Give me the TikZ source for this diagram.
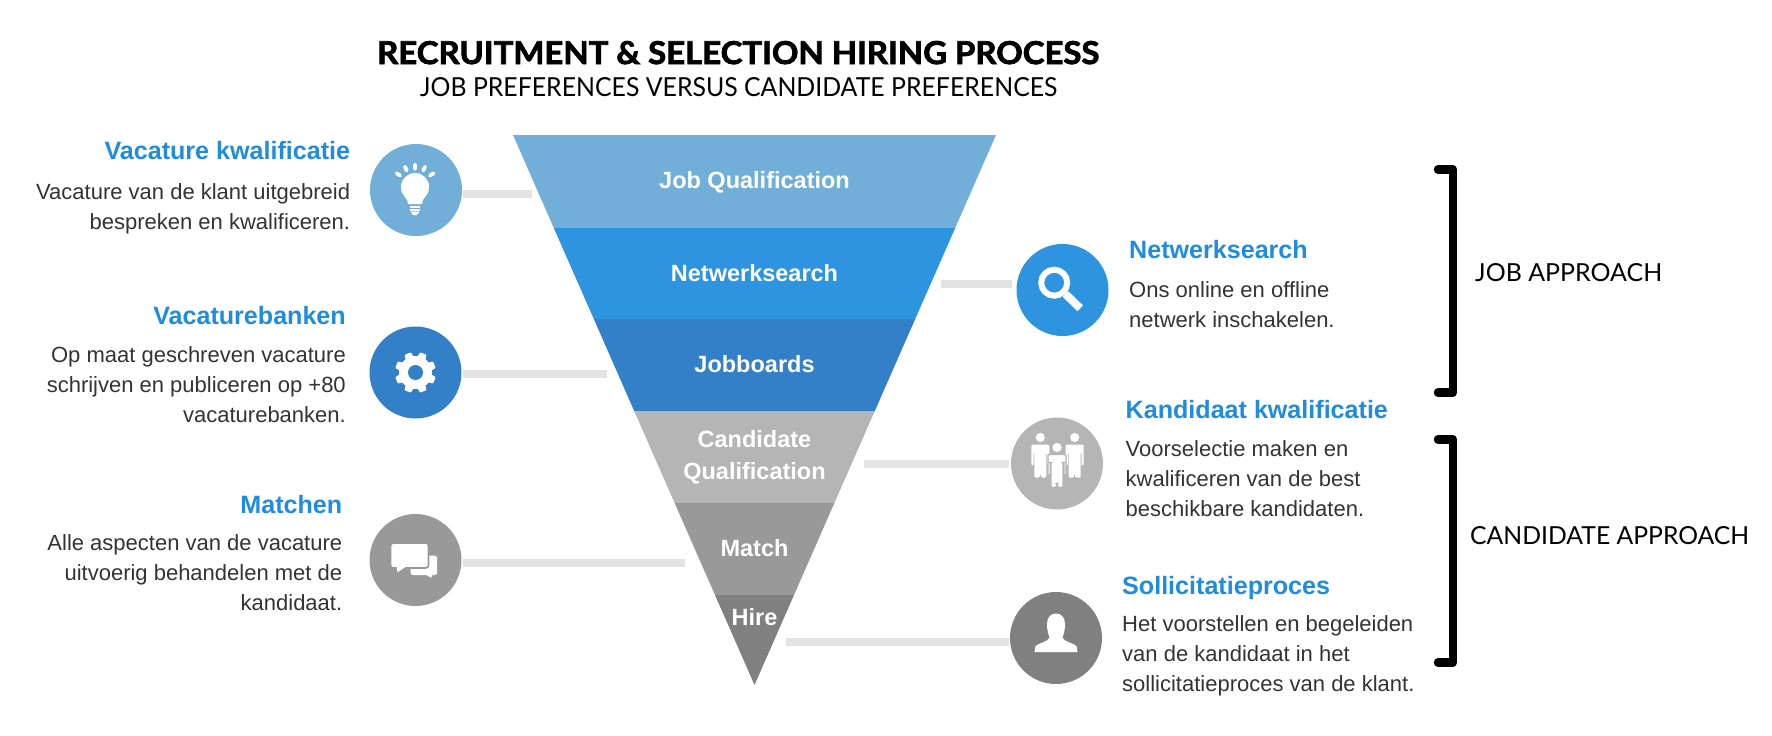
\documentclass[tikz,border=0pt]{standalone}
\usepackage{fontspec}
\usepackage{graphicx}
\setmainfont{Liberation Sans}
\newfontfamily\titlefont{Lato}[BoldFeatures={FakeBold=2.4}]
\newfontfamily\subfont{Lato}
\definecolor{cJob}{HTML}{72AFD8}
\definecolor{cNet}{HTML}{2F94E0}
\definecolor{cBoard}{HTML}{3380C8}
\definecolor{cCand}{HTML}{B5B5B5}
\definecolor{cMatch}{HTML}{999999}
\definecolor{cHire}{HTML}{808080}
\definecolor{cHead}{HTML}{1F8CE0}
\definecolor{cBody}{HTML}{333333}
\definecolor{cBar}{HTML}{E3E3E3}
\newcommand{\fitbox}[3]{\resizebox{#1pt}{#2pt}{#3}}
\tikzset{
  x=1pt,y=-1pt,
  iconc/.style={circle,minimum size=92pt,inner sep=0pt,fill=#1},
  layerlabel/.style={text=white,font=\fontsize{23.5}{32}\selectfont\bfseries,inner sep=0pt,anchor=base,align=center},
  headL/.style={text=cHead,font=\fontsize{25.1}{30}\selectfont\bfseries,inner sep=0pt,anchor=base east},
  headR/.style={text=cHead,font=\fontsize{25.1}{30}\selectfont\bfseries,inner sep=0pt,anchor=base west},
  bodyL/.style={text=cBody,font=\fontsize{22}{30}\selectfont,inner sep=0pt,anchor=base east,align=right},
  bodyR/.style={text=cBody,font=\fontsize{22}{30}\selectfont,inner sep=0pt,anchor=base west,align=left},
  fitlabel/.style={text=black,inner sep=0pt,anchor=base west},
  barline/.style={line width=8pt,cBar},
  bracketline/.style={line width=8.5pt,black,line cap=round,line join=round},
  glyph/.style={fill=white,draw=none}
}
\newcommand{\manshape}{(-9,7) -- (9,7) -- (9,28) -- (6.8,28) -- (6.8,15) -- (6,15) -- (6,40) -- (0.5,40) -- (0.5,36) -- (-0.5,36) -- (-0.5,40) -- (-6,40) -- (-6,15) -- (-6.8,15) -- (-6.8,28) -- (-9,28) -- cycle}
\begin{document}
\begin{tikzpicture}
\useasboundingbox (0,0) rectangle (1772,736);

% funnel
\fill[cJob]   (513,135) -- (996,135) -- (955.2,228) -- (553.8,228) -- cycle;
\fill[cNet]   (553.8,228) -- (955.2,228) -- (915.2,319) -- (593.8,319) -- cycle;
\fill[cBoard] (593.8,319) -- (915.2,319) -- (874.8,411) -- (634.2,411) -- cycle;
\fill[cCand]  (634.2,411) -- (874.8,411) -- (834.4,503) -- (674.6,503) -- cycle;
\fill[cMatch] (674.6,503) -- (834.4,503) -- (794,595) -- (715,595) -- cycle;
\fill[cHire]  (715,595) -- (794,595) -- (754.5,685) -- cycle;

\node[layerlabel] (l1) at (754.5,188) {Job Qualification};
\node[layerlabel] (l2) at (754.5,281) {Netwerksearch};
\node[layerlabel] (l3) at (754.5,372) {Jobboards};
\node[layerlabel] (l4) at (754.5,479) {Candidate\\Qualification};
\node[layerlabel] (l5) at (754.5,556.5) {Match};
\node[layerlabel] (l6) at (754.5,625.5) {Hire};

% icon circles
\node[iconc=cJob]   (i1) at (416,190) {};
\node[iconc=cBoard] (i2) at (415.5,372.5) {};
\node[iconc=cMatch] (i3) at (415.5,560) {};
\node[iconc=cNet]   (i4) at (1062.5,290) {};
\node[iconc=cCand]  (i5) at (1057,463.5) {};
\node[iconc=cHire]  (i6) at (1056,638) {};

% connector bars
\coordinate (b1) at (532,194);
\coordinate (b2) at (607,374);
\coordinate (b3) at (685,563);
\coordinate (b4) at (941,284);
\coordinate (b5) at (864,464);
\coordinate (b6) at (786,642);
\draw[barline] ([xshift=1pt]i1.east |- b1) -- (b1);
\draw[barline] ([xshift=1pt]i2.east |- b2) -- (b2);
\draw[barline] ([xshift=1pt]i3.east |- b3) -- (b3);
\draw[barline] ([xshift=-4pt]i4.west |- b4) -- (b4);
\draw[barline] ([xshift=-1.5pt]i5.west |- b5) -- (b5);
\draw[barline] ([xshift=-1pt]i6.west |- b6) -- (b6);

% bulb
\begin{scope}[shift={(i1.center)}]
  \fill[glyph] (-1,-3) circle (14);
  \fill[glyph] (-14.5,1) .. controls (-12,7) and (-8,9) .. (-8,14) -- (6,14) .. controls (6,9) and (10,7) .. (12.5,1) -- cycle;
  \fill[glyph] (-6,15.7) rectangle (4,17.7);
  \fill[glyph] (-6,19) rectangle (4,20.7);
  \fill[glyph] (-5.5,21.7) -- (3.5,21.7) -- (1,25) -- (-3,25) -- cycle;
  \draw[white,line width=3.8pt,line cap=round]
    (-19.3,-16.7) -- (-16,-14.5)
    (-11,-23.3) -- (-9.3,-19.5)
    (-1,-25.5) -- (-1,-21)
    (9,-23.3) -- (7.3,-19.5)
    (17.5,-16.7) -- (14,-14.5);
\end{scope}

% gear
\begin{scope}[shift={(i2.center)}]
  \fill[glyph] (0,0) circle (16.5);
  \foreach \a in {22.5,67.5,...,337.5}
    \fill[glyph,rotate=\a,rounded corners=1pt] (13,-4.5) -- (20.5,-3.5) -- (20.5,3.5) -- (13,4.5) -- cycle;
  \fill[cBoard] (0,0) circle (7.5);
\end{scope}

% chat bubbles
\begin{scope}[shift={(i3.center)}]
  \fill[glyph,rounded corners=2.5pt] (-5,-4.3) rectangle (21.7,15);
  \fill[glyph] (10,14.5) -- (15.7,17.7) -- (16.7,14.5) -- cycle;
  \path[fill=white,draw=cMatch,line width=1.6pt,rounded corners=3pt] (-25,-17) rectangle (13,8);
  \fill[glyph] (-19,7) -- (-18,12.3) -- (-10,7) -- cycle;
\end{scope}

% magnifier
\begin{scope}[shift={(i4.center)}]
  \draw[white,line width=6pt] (-8.3,-7.3) circle (13);
  \draw[white,line width=8pt] (3,4) -- (17.7,18.3);
\end{scope}

% people
\begin{scope}[shift={(i5.center)}]
  \begin{scope}[shift={(-16.7,-26)}]
    \fill[glyph] (0,0) circle (4.6);
    \fill[glyph,rounded corners=1.2pt] \manshape;
  \end{scope}
  \begin{scope}[shift={(17.7,-26)}]
    \fill[glyph] (0,0) circle (4.6);
    \fill[glyph,rounded corners=1.2pt] \manshape;
  \end{scope}
  \begin{scope}[shift={(0,-16)}]
    \fill[glyph] (0,0) circle (4.6);
    \path[fill=white,draw=cCand,line width=1.4pt,rounded corners=1.2pt] \manshape;
  \end{scope}
\end{scope}

% person
\begin{scope}[shift={(i6.center)}]
  \fill[glyph] (-21.5,14) -- (-20.5,8) .. controls (-17,5) and (-9,4) .. (-6.5,0) .. controls (-7,-3) and (-9,-6) .. (-9,-14) .. controls (-9,-21) and (-5,-24.5) .. (0,-24.5) .. controls (5,-24.5) and (9,-21) .. (9,-14) .. controls (9,-6) and (7,-3) .. (6.5,0) .. controls (9,4) and (17,5) .. (20.5,8) -- (21.5,14) -- cycle;
\end{scope}

% title
\node[fitlabel] (t1) at (377,64) {\fitbox{722}{23}{\titlefont\bfseries\fontsize{30}{30}\selectfont RECRUITMENT \& SELECTION HIRING PROCESS}};
\node[fitlabel] (t2) at (420,96.7) {\fitbox{637}{19}{\subfont\fontsize{26}{26}\selectfont JOB PREFERENCES VERSUS CANDIDATE PREFERENCES}};

% left column
\node[headL] (h1) at (350.3,159) {Vacature kwalificatie};
\node[bodyL] (d1) at (350.3,229) {Vacature van de klant uitgebreid\\bespreken en kwalificeren.};
\node[headL] (h2) at (346,324) {Vacaturebanken};
\node[bodyL] (d2) at (346,422) {Op maat geschreven vacature\\schrijven en publiceren op +80\\vacaturebanken.};
\node[headL] (h3) at (342.4,513) {Matchen};
\node[bodyL] (d3) at (342.4,610) {Alle aspecten van de vacature\\uitvoerig behandelen met de\\kandidaat.};

% right column
\node[headR] (h4) at (1129,258) {Netwerksearch};
\node[bodyR] (d4) at (1129,327) {Ons online en offline\\netwerk inschakelen.};
\node[headR] (h5) at (1125.5,418) {Kandidaat kwalificatie};
\node[bodyR] (d5) at (1125.5,516) {Voorselectie maken en\\kwalificeren van de best\\beschikbare kandidaten.};
\node[headR] (h6) at (1122,594) {Sollicitatieproces};
\node[bodyR] (d6) at (1122,691.5) {Het voorstellen en begeleiden\\van de kandidaat in het\\sollicitatieproces van de klant.};

% brackets
\coordinate (br1a) at (1438,169.5);
\coordinate (br1b) at (1438,392.5);
\coordinate (br2a) at (1438,439.5);
\coordinate (br2b) at (1438,662.5);
\draw[bracketline] (br1a) -- ++(15,0) |- (br1b);
\draw[bracketline] (br2a) -- ++(15,0) |- (br2b);

\node[fitlabel] (a1) at (1475,281) {\fitbox{187}{18}{\subfont\fontsize{24}{24}\selectfont JOB APPROACH}};
\node[fitlabel] (a2) at (1470,544) {\fitbox{279}{18}{\subfont\fontsize{24}{24}\selectfont CANDIDATE APPROACH}};
\end{tikzpicture}
\end{document}
